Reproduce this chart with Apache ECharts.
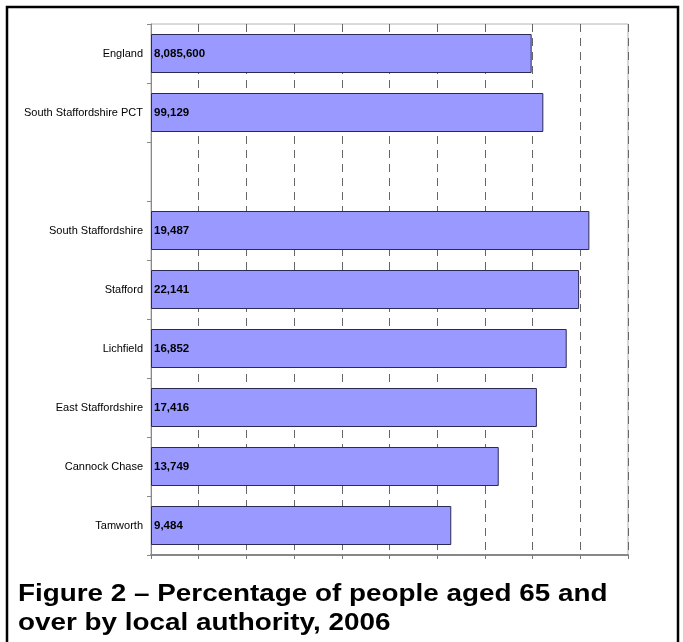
<!DOCTYPE html>
<html>
<head>
<meta charset="utf-8">
<script src="https://cdn.jsdelivr.net/npm/echarts@6/dist/echarts.min.js"></script>
<style>
html,body{margin:0;padding:0;background:#fff;}
#chart{width:683px;height:642px;}
</style>
</head>
<body>
<div id="chart"></div>
<script>
const categories = ['England', 'South Staffordshire PCT', '', 'South Staffordshire', 'Stafford', 'Lichfield', 'East Staffordshire', 'Cannock Chase', 'Tamworth'];
const percentages = [15.96, 16.45, null, 18.38, 17.95, 17.43, 16.18, 14.58, 12.59];
const counts = ['8,085,600', '99,129', '', '19,487', '22,141', '16,852', '17,416', '13,749', '9,484'];
const xMin = 0, xMax = 20, xStep = 2;
const titleText = 'Figure 2 \u2013 Percentage of people aged 65 and\nover by local authority, 2006';

const sans = '"Liberation Sans", Arial, sans-serif';
const chart = echarts.init(document.getElementById('chart'), null, {renderer: 'canvas'});
chart.setOption({
  animation: false,
  backgroundColor: '#fff',
  graphic: [{
    type: 'rect', shape: {x: 7, y: 7, width: 671, height: 700},
    style: {fill: 'none', stroke: '#000', lineWidth: 2.5}, silent: true, z: 100
  }, {
    type: 'text', x: 18, y: 580, scaleX: 1.16, silent: true, z: 100,
    style: {
      text: titleText, fontFamily: sans, fontSize: 24, fontWeight: 'bold',
      fill: '#000', lineHeight: 29, verticalAlign: 'top', align: 'left'
    }
  }],
  grid: {left: 151, right: 55, top: 24, bottom: 87, show: true, borderColor: '#b4b4b4', borderWidth: 1, backgroundColor: 'transparent'},
  xAxis: {
    type: 'value', min: xMin, max: xMax, interval: xStep,
    axisLabel: {show: false},
    axisLine: {show: true, lineStyle: {color: '#888', width: 2}},
    axisTick: {show: true, length: 4, lineStyle: {color: '#777'}},
    splitLine: {show: true, lineStyle: {color: '#666', type: [8, 6], width: 1}}
  },
  yAxis: {
    type: 'category', data: categories, inverse: true,
    axisLine: {show: true, lineStyle: {color: '#888', width: 1}},
    axisTick: {show: true, length: 4, lineStyle: {color: '#888'}},
    axisLabel: {fontFamily: sans, fontSize: 11, color: '#000', margin: 8}
  },
  series: [{
    type: 'bar', data: percentages, barWidth: 39,
    itemStyle: {color: '#9999ff', borderColor: '#2a2a55', borderWidth: 1},
    label: {
      show: true, position: 'insideLeft', distance: 3,
      formatter: p => counts[p.dataIndex],
      fontFamily: sans, fontSize: 11.5, fontWeight: 'bold', color: '#000'
    }
  }]
});
</script>
</body>
</html>
